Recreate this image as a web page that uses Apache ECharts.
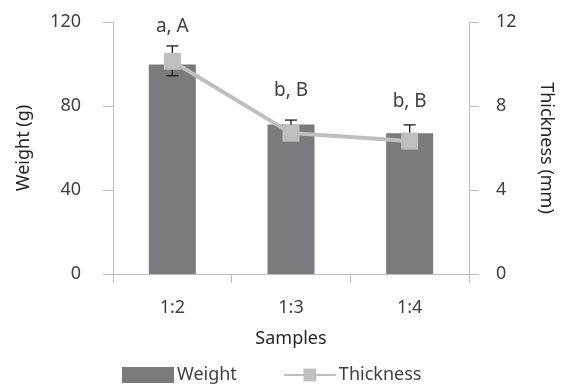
<!DOCTYPE html>
<html>
<head>
<meta charset="utf-8">
<script src="https://cdn.jsdelivr.net/npm/echarts@6/dist/echarts.min.js"></script>
<style>html,body{margin:0;padding:0;background:#fff}#c{width:567px;height:385px}</style>
</head>
<body>
<div id="c"></div>
<script>
var categories = ['1:2', '1:3', '1:4'];
var weightValues = [99.8, 71.2, 67.0];
var weightErrPlus = [8.8, 2.1, 4.0];
var weightErrMinus = [5.4, 2.1, 4.0];
var thicknessValues = [10.13, 6.71, 6.33];
var letterLabels = ['a, A', 'b, B', 'b, B'];
var labelHeights = [117.6, 87.1, 81.9];
var weightTicks = [0, 40, 80, 120];
var thicknessTicks = [0, 4, 8, 12];

var FONT = 'Noto Sans';
var chart = echarts.init(document.getElementById('c'), null, {renderer: 'canvas'});

var errData = weightValues.map(function (v, i) { return [i, v, weightErrPlus[i], weightErrMinus[i]]; });
var lblData = labelHeights.map(function (v, i) { return [i, v]; });

chart.setOption({
  animation: false,
  textStyle: {fontFamily: FONT},
  grid: {left: 113, right: 98, top: 22, bottom: 111, containLabel: false},
  legend: {
    left: 117, top: 361, itemWidth: 52, itemHeight: 16, itemGap: 46,
    textStyle: {fontFamily: FONT, fontSize: 18, color: '#404040', padding: [0, 0, 0, -2]},
    data: [{name: 'Weight', icon: 'rect'}, {name: 'Thickness'}]
  },
  xAxis: {
    type: 'category', data: categories, boundaryGap: true,
    name: 'Samples', nameLocation: 'middle', nameGap: 56,
    nameTextStyle: {fontFamily: FONT, fontSize: 18, color: '#262626'},
    axisLine: {lineStyle: {color: '#bfbfbf', width: 1}},
    axisTick: {show: true, length: 9, lineStyle: {color: '#bfbfbf'}},
    axisLabel: {fontFamily: FONT, fontSize: 18, color: '#404040', margin: 25}
  },
  yAxis: [{
    type: 'value', min: weightTicks[0], max: weightTicks[3], interval: 40,
    name: 'Weight (g)', nameLocation: 'middle', nameGap: 80, nameRotate: 90,
    nameTextStyle: {fontFamily: FONT, fontSize: 18, color: '#262626'},
    axisLine: {show: true, lineStyle: {color: '#bfbfbf'}},
    axisTick: {show: true, length: 10, lineStyle: {color: '#bfbfbf'}},
    splitLine: {show: false},
    axisLabel: {fontFamily: FONT, fontSize: 18, color: '#404040', margin: 32}
  }, {
    type: 'value', min: thicknessTicks[0], max: thicknessTicks[3], interval: 4, position: 'right',
    name: 'Thickness (mm)', nameLocation: 'middle', nameGap: 68, nameRotate: -90,
    nameTextStyle: {fontFamily: FONT, fontSize: 18, color: '#262626'},
    axisLine: {show: true, lineStyle: {color: '#bfbfbf'}},
    axisTick: {show: true, length: 10, lineStyle: {color: '#bfbfbf'}},
    splitLine: {show: false},
    axisLabel: {fontFamily: FONT, fontSize: 18, color: '#404040', margin: 27}
  }],
  series: [{
    name: 'Weight', type: 'bar', data: weightValues, barWidth: 47,
    itemStyle: {color: '#7b7b7d'}, z: 1
  }, {
    name: 'errors', type: 'custom', yAxisIndex: 0, data: errData, z: 2,
    renderItem: function (params, api) {
      var x = api.value(0), v = api.value(1), ep = api.value(2), em = api.value(3);
      var top = api.coord([x, v + ep]), bot = api.coord([x, v - em]);
      var hw = 6;
      var st = {stroke: '#1a1a1a', lineWidth: 1.3};
      return {type: 'group', children: [
        {type: 'line', shape: {x1: top[0], y1: top[1], x2: bot[0], y2: bot[1]}, style: st},
        {type: 'line', shape: {x1: top[0] - hw, y1: top[1], x2: top[0] + hw, y2: top[1]}, style: st},
        {type: 'line', shape: {x1: bot[0] - hw, y1: bot[1], x2: bot[0] + hw, y2: bot[1]}, style: st}
      ]};
    }
  }, {
    name: 'Thickness', type: 'line', yAxisIndex: 1, data: thicknessValues,
    symbol: 'rect', symbolSize: 17, z: 3,
    lineStyle: {color: '#bfbfbf', width: 4},
    itemStyle: {color: '#bfbfbf'}
  }, {
    name: 'letters', type: 'custom', yAxisIndex: 0, data: lblData, z: 4,
    renderItem: function (params, api) {
      var p = api.coord([api.value(0), api.value(1)]);
      return {type: 'text', x: p[0], y: p[1], style: {
        text: letterLabels[params.dataIndex], fontFamily: FONT, fontSize: 19, fill: '#404040',
        align: 'center', verticalAlign: 'middle'}};
    }
  }]
});
</script>
</body>
</html>
